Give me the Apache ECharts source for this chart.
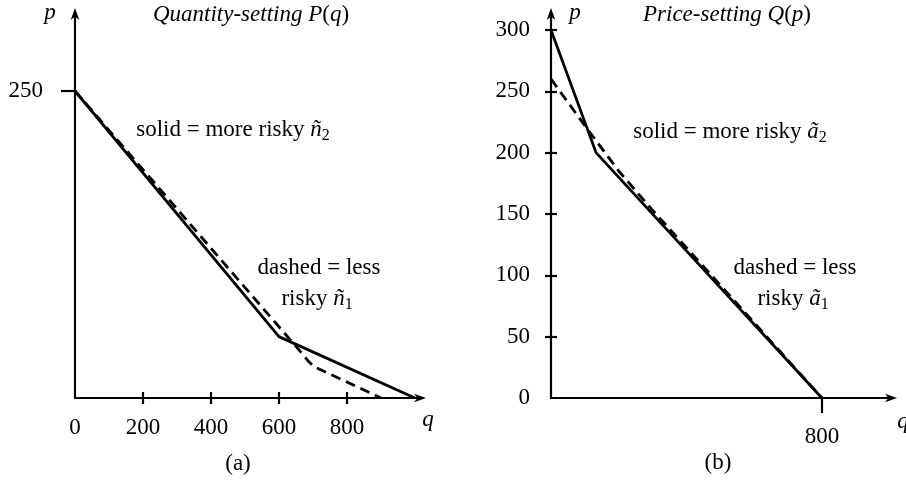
<!DOCTYPE html>
<html>
<head>
<meta charset="utf-8">
<script src="https://cdn.jsdelivr.net/npm/echarts@6/dist/echarts.min.js"></script>
<style>
  html, body { margin: 0; padding: 0; background: #fff; }
  #chart { width: 906px; height: 484px; }
</style>
</head>
<body>
<div id="chart"></div>
<script>
// Panel (a): quantity-setting inverse demand P(q)
const qLabelsA = [0, 200, 400, 600, 800];
const qTicksA = [200, 400, 600, 800];
const pLabelsA = [250];
const solidA = [[0, 250], [600, 50], [1000, 0]];
const dashedA = [[0, 250], [600, 58], [672, 35], [688, 29.5], [704, 25.5], [900, 0]];

// Panel (b): price-setting demand Q(p)
const qLabelsB = [800];
const pLabelsB = [0, 50, 100, 150, 200, 250, 300];
const pTicksB = [50, 100, 150, 200, 250, 300];
const solidB = [[0, 300], [133, 200], [800, 0]];
const dashedB = [[0, 260], [100, 222], [200, 185], [300, 153], [500, 92], [800, 0]];

const FONT = '"Liberation Serif", "Times New Roman", serif';
const FS = 23;
const ARROW = 'path://M5,0 L10,14 L5,10 L0,14 Z';

const chart = echarts.init(document.getElementById('chart'), null, { renderer: 'canvas' });

const lineStyle = { color: '#000', width: 2.2 };
const labelStyle = { color: '#000', fontFamily: FONT, fontSize: FS };

function mainAxis(gridIndex, position, max, labels, ticks, tickLen, margin) {
  return {
    type: 'value', gridIndex, position, min: 0, max,
    axisLine: { show: true, onZero: false, symbol: ['none', ARROW], symbolSize: [9, 12], lineStyle },
    axisTick: { show: true, inside: false, length: tickLen, customValues: ticks, lineStyle },
    axisLabel: Object.assign({ show: true, margin, customValues: labels }, labelStyle),
    splitLine: { show: false }
  };
}
function innerTickAxis(gridIndex, position, max, ticks) {
  return {
    type: 'value', gridIndex, position, min: 0, max,
    axisLine: { show: false, onZero: false },
    axisTick: { show: true, inside: true, length: 6, customValues: ticks, lineStyle },
    axisLabel: { show: false, customValues: ticks },
    splitLine: { show: false }
  };
}

const rich = {
  t: { fontFamily: FONT, fontSize: FS, color: '#000' },
  i: { fontFamily: FONT, fontSize: FS, fontStyle: 'italic', color: '#000' },
  s: { fontFamily: FONT, fontSize: 16, color: '#000', padding: [11, 0, 0, 0] }
};
function txt(x, y, text) {
  return {
    type: 'text', x, y, silent: true,
    style: {
      text, rich, fill: '#000', font: FS + 'px ' + FONT,
      align: 'center', verticalAlign: 'middle',
      textAlign: 'center', textVerticalAlign: 'middle'
    }
  };
}

const curve = { color: '#000', width: 2.8 };

const option = {
  backgroundColor: '#fff',
  animation: false,
  grid: [
    { left: 75, top: 14, width: 345, height: 384, containLabel: false },
    { left: 551, top: 14, width: 340, height: 384, containLabel: false }
  ],
  xAxis: [
    mainAxis(0, 'bottom', 1015, qLabelsA, qTicksA, 6, 18),
    innerTickAxis(0, 'bottom', 1015, qTicksA),
    mainAxis(1, 'bottom', 1004, qLabelsB, qLabelsB, 15, 27)
  ],
  yAxis: [
    mainAxis(0, 'left', 312.7, pLabelsA, pLabelsA, 14, 32),
    mainAxis(1, 'left', 313, pLabelsB, pTicksB, 6, 21),
    innerTickAxis(1, 'left', 313, pTicksB)
  ],
  series: [
    { type: 'line', xAxisIndex: 0, yAxisIndex: 0, data: solidA, showSymbol: false, silent: true,
      lineStyle: Object.assign({}, curve) },
    { type: 'line', xAxisIndex: 0, yAxisIndex: 0, data: dashedA, showSymbol: false, silent: true,
      lineStyle: Object.assign({ type: [10, 6] }, curve) },
    { type: 'line', xAxisIndex: 2, yAxisIndex: 1, data: solidB, showSymbol: false, silent: true,
      lineStyle: Object.assign({}, curve) },
    { type: 'line', xAxisIndex: 2, yAxisIndex: 1, data: dashedB, showSymbol: false, silent: true,
      lineStyle: Object.assign({ type: [10, 6] }, curve) }
  ],
  graphic: [
    txt(251, 15, '{i|Quantity-setting P}{t|(}{i|q}{t|)}'),
    txt(727, 15, '{i|Price-setting Q}{t|(}{i|p}{t|)}'),
    txt(50, 13, '{i|p}'),
    txt(575, 13, '{i|p}'),
    txt(428, 420, '{i|q}'),
    txt(903, 422, '{i|q}'),
    txt(233, 130, '{t|solid = more risky }{i|ñ}{s|2}'),
    txt(730, 132, '{t|solid = more risky }{i|ã}{s|2}'),
    txt(319, 268, '{t|dashed = less}'),
    txt(317, 299, '{t|risky }{i|ñ}{s|1}'),
    txt(795, 268, '{t|dashed = less}'),
    txt(793, 299, '{t|risky }{i|ã}{s|1}'),
    txt(238, 464, '{t|(a)}'),
    txt(718, 463, '{t|(b)}')
  ]
};

chart.setOption(option);
</script>
</body>
</html>
